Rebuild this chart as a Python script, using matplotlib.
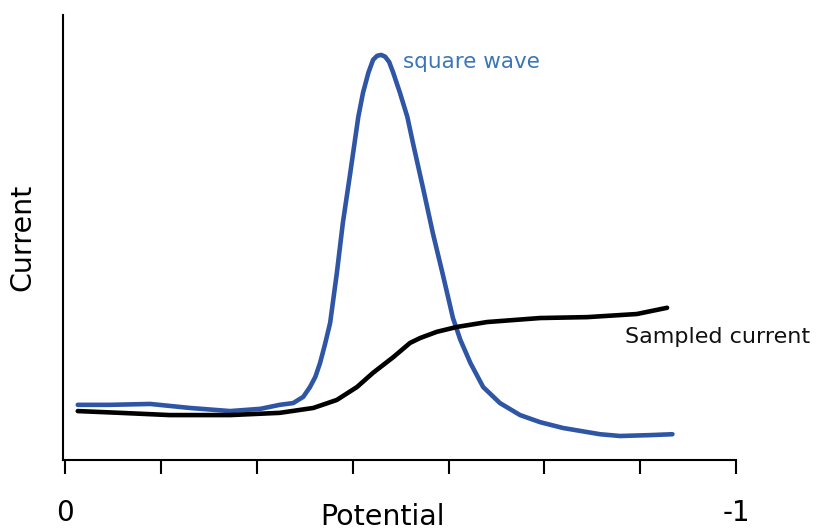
import matplotlib.pyplot as plt

# potential (V) and current (arbitrary units)
sw_potential = [-0.019, -0.067, -0.127, -0.186, -0.246, -0.291, -0.320, -0.340, -0.355, -0.365,
                -0.373, -0.380, -0.387, -0.395, -0.405, -0.414, -0.425, -0.437, -0.444, -0.452,
                -0.459, -0.465, -0.471, -0.477, -0.483, -0.489, -0.499, -0.510, -0.519, -0.534,
                -0.548, -0.563, -0.578, -0.589, -0.604, -0.623, -0.648, -0.678, -0.708, -0.742,
                -0.797, -0.827, -0.872, -0.905]
sw_current = [0.124, 0.124, 0.126, 0.117, 0.110, 0.115, 0.124, 0.128, 0.142, 0.164,
              0.187, 0.218, 0.258, 0.308, 0.420, 0.533, 0.645, 0.771, 0.825, 0.870,
              0.899, 0.908, 0.910, 0.906, 0.894, 0.870, 0.825, 0.771, 0.708, 0.607,
              0.510, 0.416, 0.319, 0.270, 0.218, 0.164, 0.128, 0.101, 0.085, 0.072,
              0.058, 0.054, 0.056, 0.058]

samp_potential = [-0.019, -0.082, -0.156, -0.246, -0.320, -0.370, -0.405, -0.435, -0.459, -0.489,
                  -0.514, -0.529, -0.554, -0.584, -0.629, -0.708, -0.778, -0.852, -0.897]
samp_current = [0.110, 0.106, 0.101, 0.101, 0.106, 0.117, 0.135, 0.164, 0.196, 0.231,
                0.263, 0.274, 0.288, 0.299, 0.310, 0.319, 0.321, 0.328, 0.342]

tick_pos = [-i / 7 for i in range(8)]
tick_labels = ['0', '', '', '', '', '', '', '-1']

fig = plt.figure(figsize=(8.17, 5.30), dpi=100)
ax = fig.add_axes([0.0771, 0.132, 0.824, 0.840])

ax.plot(sw_potential, sw_current, color='#2f56a5', lw=3.3,
        solid_capstyle='round', solid_joinstyle='round')
ax.plot(samp_potential, samp_current, color='black', lw=3.3,
        solid_capstyle='round', solid_joinstyle='round')

ax.text(-0.504, 0.894, 'square wave', color='#3a76b8', fontsize=15.5, va='center', ha='left')
ax.text(-0.835, 0.276, 'Sampled current', color='#111111', fontsize=16, va='center', ha='left')

ax.set_xlim(0.003, -1.0)
ax.set_ylim(0, 1)
ax.spines['top'].set_visible(False)
ax.spines['right'].set_visible(False)
ax.spines['left'].set_linewidth(1.5)
ax.spines['bottom'].set_linewidth(1.5)

ax.set_xticks(tick_pos)
ax.set_xticklabels(tick_labels, fontsize=20)
ax.tick_params(axis='x', direction='out', length=10, width=1.5, pad=18)
ax.set_yticks([])

ax.set_xlabel('Potential', fontsize=20.5, va='center')
ax.xaxis.set_label_coords(0.475, -0.127)
ax.set_ylabel('Current', fontsize=20.5, va='center')
ax.yaxis.set_label_coords(-0.061, 0.50)

plt.savefig('out.png')
